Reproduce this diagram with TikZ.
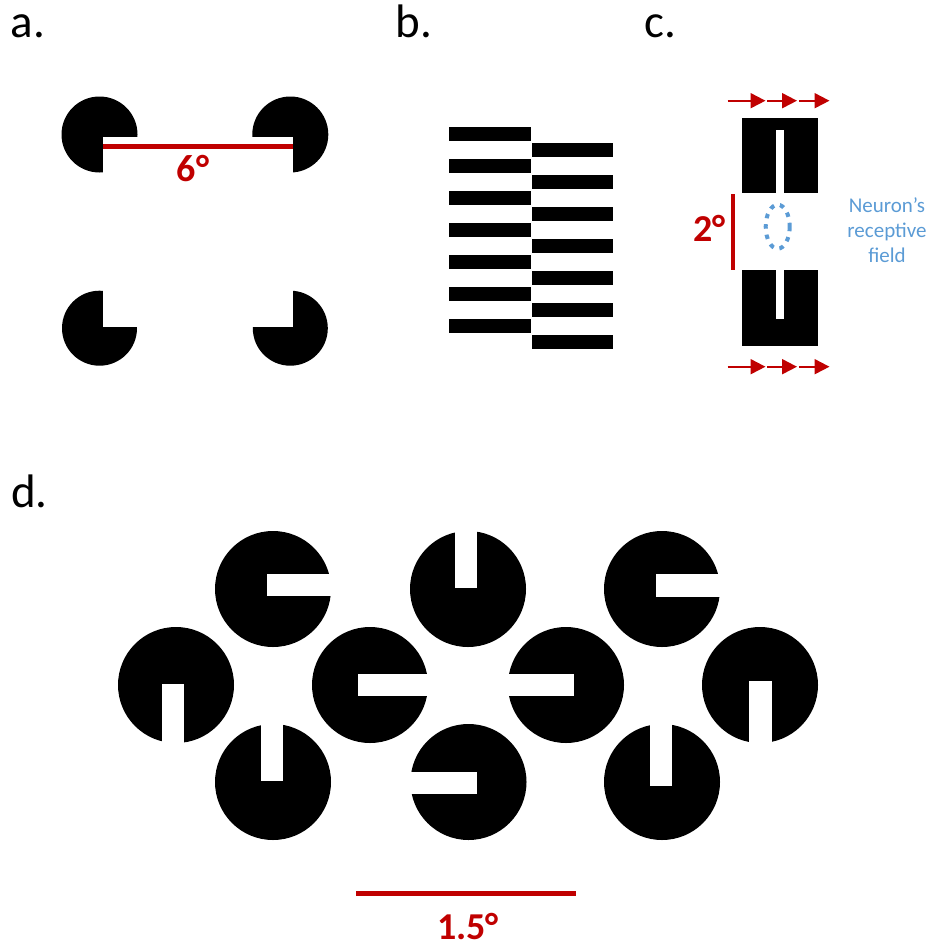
\documentclass[tikz,border=0pt]{standalone}
\usepackage{fontspec}
\setmainfont{Carlito}
\usetikzlibrary{arrows.meta}
\definecolor{dred}{HTML}{C00000}
\definecolor{rfblue}{HTML}{5B9BD5}
\tikzset{
  panellabel/.style={anchor=base west,inner sep=0pt,font=\fontsize{47}{56}\selectfont},
  redlabel/.style={anchor=base,inner sep=0pt,text=dred,font=\fontsize{38}{44}\selectfont\bfseries},
  redbar/.style={draw=dred,line width=5pt},
  motion/.style={draw=dred,line width=2pt,-{Triangle[length=15pt,width=15pt]}},
  hole/.style={fill=white},
  solid shape/.style={fill=black}
}
\begin{document}
\begin{tikzpicture}[x=1pt,y=-1pt]
\useasboundingbox (0,0) rectangle (933,950);
% ---------- labels
\node[panellabel] (la) at (10.5,37.3) {a.};
\node[panellabel] (lb) at (395.5,37.3) {b.};
\node[panellabel] (lc) at (644.5,37.3) {c.};
\node[panellabel] (ld) at (11,507.7) {d.};
% ---------- panel a
\fill[solid shape] (99.5,134.5) circle (38);
\fill[hole] (103,137) rectangle (140,175);
\fill[solid shape] (290.3,134.5) circle (38);
\fill[hole] (292.7,137) rectangle (250,175);
\fill[solid shape] (99.5,328.2) circle (37.5);
\fill[hole] (103,326.7) rectangle (140,288);
\fill[solid shape] (290.3,328.2) circle (37.5);
\fill[hole] (292.7,326.7) rectangle (250,288);
\coordinate (a1) at (103,146.5);
\coordinate (a2) at (292.5,146.5);
\draw[redbar] (a1) -- (a2);
\node[redlabel] (sixdeg) at (193,181.7) {6°};
% ---------- panel b
\foreach \k in {0,...,6}{
  \fill[solid shape] (449.3,127.3+32*\k) rectangle (531,141+32*\k);
  \fill[solid shape] (531.7,143.3+32*\k) rectangle (613.3,157+32*\k);
}
% ---------- panel c
\coordinate (t0) at (727.7,100.7); \coordinate (t1) at (765.5,100.7);
\coordinate (t2) at (767.3,100.7); \coordinate (t3) at (797,100.7);
\coordinate (t4) at (799.3,100.7); \coordinate (t5) at (829.5,100.7);
\draw[motion] (t0) -- (t1);
\draw[motion] (t2) -- (t3);
\draw[motion] (t4) -- (t5);
\coordinate (b0) at (727.7,366.7); \coordinate (b1) at (765.5,366.7);
\coordinate (b2) at (767.3,366.7); \coordinate (b3) at (797,366.7);
\coordinate (b4) at (799.3,366.7); \coordinate (b5) at (829.5,366.7);
\draw[motion] (b0) -- (b1);
\draw[motion] (b2) -- (b3);
\draw[motion] (b4) -- (b5);
\fill[solid shape] (742,117.7) rectangle (818,193.3);
\fill[hole] (776,130) rectangle (784,194);
\fill[solid shape] (742,270) rectangle (818,345.7);
\fill[hole] (776,269) rectangle (784,319.3);
\coordinate (v1) at (732.7,194);
\coordinate (v2) at (732.7,270);
\draw[draw=dred,line width=4pt] (v1) -- (v2);
\node[redlabel] (twodeg) at (709.3,241) {2°};
\draw[rfblue,line width=4pt,dash pattern=on 4.5pt off 6pt] (777.7,226.7) ellipse (12 and 22);
\node[text=rfblue,align=center,inner sep=0pt,font=\fontsize{21}{25.3}\selectfont] (rf) at (887,230) {Neuron’s\\receptive\\field};
% ---------- panel d
% row 1
\fill[solid shape] (273,589) circle (58);
\fill[hole] (267.3,574.3) rectangle (333,596.3);
\fill[solid shape] (468,589) circle (58);
\fill[hole] (455,529) rectangle (477,588.3);
\fill[solid shape] (662,589) circle (58);
\fill[hole] (656,574.3) rectangle (722,597);
% row 2
\fill[solid shape] (176,685) circle (58);
\fill[hole] (162,684) rectangle (183.7,745);
\fill[solid shape] (370,685) circle (58);
\fill[hole] (358.3,674) rectangle (430,696);
\fill[solid shape] (566,685) circle (58);
\fill[hole] (506,674.3) rectangle (574,696);
\fill[solid shape] (760,685) circle (58);
\fill[hole] (749.3,680.7) rectangle (771.7,745);
% row 3
\fill[solid shape] (273,782) circle (58);
\fill[hole] (261,722) rectangle (282.7,781);
\fill[solid shape] (468.5,782) circle (58);
\fill[hole] (408,772.3) rectangle (476.7,794);
\fill[solid shape] (662,782) circle (58);
\fill[hole] (650,722) rectangle (672,785.7);
\coordinate (d1) at (356,893.3);
\coordinate (d2) at (576,893.3);
\draw[redbar] (d1) -- (d2);
\node[redlabel] (onefive) at (468,939.3) {1.5°};
\end{tikzpicture}
\end{document}
